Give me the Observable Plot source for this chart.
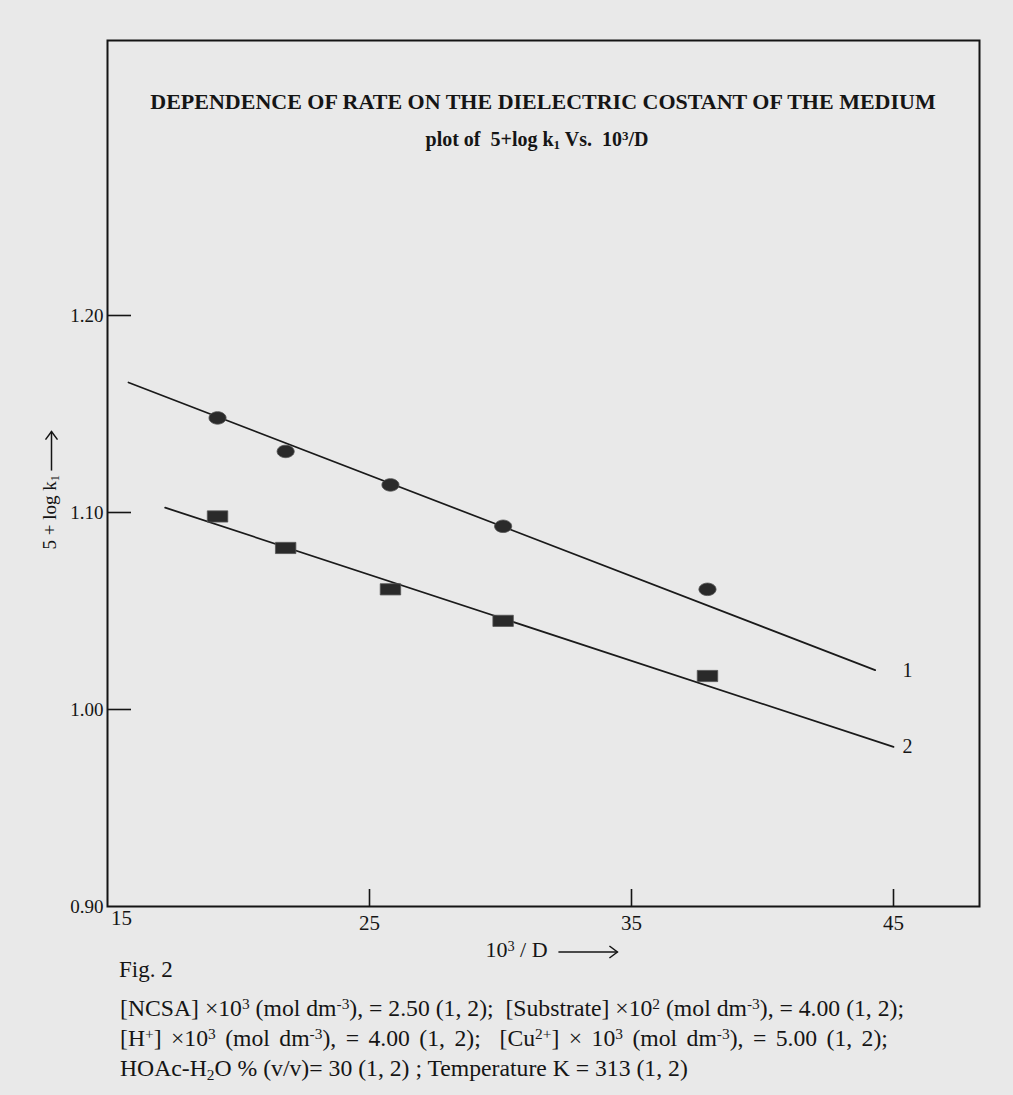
<!DOCTYPE html>
<html><head><meta charset="utf-8">
<script src="https://cdn.jsdelivr.net/npm/d3@7"></script>
<script src="https://cdn.jsdelivr.net/npm/@observablehq/plot@0.6"></script>
<style>
body{margin:0;background:#e9e9e9;}
#page{position:relative;width:1013px;height:1095px;overflow:hidden;font-family:"Liberation Serif","Times New Roman",serif;color:#151515;}
#page > svg{position:absolute;left:0;top:0;}
.abs{position:absolute;white-space:nowrap;line-height:1;}
.abs sub{font-size:0.65em;vertical-align:-0.25em;line-height:0;}
.abs sup{font-size:0.65em;vertical-align:0.45em;line-height:0;}
</style></head><body><div id="page"></div>
<script>
// ---- data ----
const xValues = [19.2, 21.8, 25.8, 30.1, 37.9];          // 10^3/D
const series1 = [1.148, 1.131, 1.114, 1.093, 1.061];     // curve 1 (circles)
const series2 = [1.098, 1.082, 1.061, 1.045, 1.017];     // curve 2 (squares)
const fit1X = [15.8, 44.3];
const fit1Y = [1.166, 1.020];
const fit2X = [17.2, 45.0];
const fit2Y = [1.1025, 0.981];
const seriesNames = ["1", "2"];
const xTicks = [15, 25, 35, 45];
const yTicks = [0.90, 1.00, 1.10, 1.20];

// ---- tables ----
const pts1 = xValues.map((x, i) => ({x, y: series1[i]}));
const pts2 = xValues.map((x, i) => ({x, y: series2[i]}));
const fit1 = fit1X.map((x, i) => ({x, y: fit1Y[i]}));
const fit2 = fit2X.map((x, i) => ({x, y: fit2Y[i]}));
const fitEnds = [{name: seriesNames[0], y: fit1Y[1]}, {name: seriesNames[1], y: fit2Y[1]}];

// custom symbols
const ellipseSym = {draw(ctx, size) {
  const r = Math.sqrt(size / Math.PI), rx = r * 1.3, ry = r * 0.95, n = 28;
  for (let i = 0; i < n; i++) {
    const a = 2 * Math.PI * i / n;
    const px = rx * Math.cos(a), py = ry * Math.sin(a);
    i ? ctx.lineTo(px, py) : ctx.moveTo(px, py);
  }
  ctx.closePath();
}};
const rectSym = {draw(ctx, size) {
  const r = Math.sqrt(size / Math.PI), w = r * 1.55, h = r * 0.85;
  ctx.moveTo(-w, -h); ctx.lineTo(w, -h); ctx.lineTo(w, h); ctx.lineTo(-w, h); ctx.closePath();
}};

const W = 1013, H = 960, mL = 107, mR = 34, mT = 40, mB = 54;
const fw = W - mL - mR, fh = H - mT - mB;
const pxPerX = 26.2, pxPerY = 1970;

const plot = Plot.plot({
  width: W, height: H,
  marginLeft: mL, marginRight: mR, marginTop: mT, marginBottom: mB,
  style: {background: "transparent", fontFamily: "'Liberation Serif', serif", color: "#151515"},
  x: {domain: [15, 15 + fw / pxPerX]},
  y: {domain: [0.9, 0.9 + fh / pxPerY]},
  marks: [
    Plot.frame({stroke: "#151515", strokeWidth: 2}),
    Plot.ruleY(yTicks.slice(1), {y: d => d, insetRight: fw - 24, stroke: "#151515", strokeWidth: 1.6}),
    Plot.ruleX(xTicks.slice(1), {x: d => d, insetTop: fh - 17, stroke: "#151515", strokeWidth: 1.6}),
    Plot.axisY(yTicks, {tickSize: 0, tickPadding: 4, tickFormat: d3.format(".2f"), fontSize: 19, label: null}),
    Plot.axisX(xTicks.slice(1), {tickSize: 0, tickPadding: 9, fontSize: 21, label: null}),
    Plot.text([xTicks[0]], {x: d => d, text: d => String(d), frameAnchor: "bottom", dy: 18, dx: 14, fontSize: 21}),
    Plot.line(fit1, {x: "x", y: "y", stroke: "#1a1a1a", strokeWidth: 1.7}),
    Plot.line(fit2, {x: "x", y: "y", stroke: "#1a1a1a", strokeWidth: 1.7}),
    Plot.dot(pts1, {x: "x", y: "y", symbol: ellipseSym, r: 6.6, fill: "#2a2a2a", stroke: "#555", strokeWidth: 0.8}),
    Plot.dot(pts2, {x: "x", y: "y", symbol: rectSym, r: 6.6, fill: "#2a2a2a", stroke: "#555", strokeWidth: 0.8}),
    Plot.text(fitEnds, {y: "y", text: "name", frameAnchor: "right", dx: -67, fontSize: 20})
  ]
});
const page = document.getElementById("page");
page.appendChild(plot);

const arrow = (len) => `<svg width="${len}" height="14" style="vertical-align:middle;overflow:visible"><line x1="0" y1="7" x2="${len-1}" y2="7" stroke="#151515" stroke-width="1.5"/><path d="M${len-9},1 L${len-1},7 L${len-9},13" fill="none" stroke="#151515" stroke-width="1.5"/></svg>`;

function add(html, style) {
  const d = document.createElement("div");
  d.className = "abs";
  d.innerHTML = html;
  Object.assign(d.style, style);
  page.appendChild(d);
  return d;
}
add("DEPENDENCE OF RATE ON THE DIELECTRIC COSTANT OF THE MEDIUM",
  {left: "543px", top: "91px", transform: "translateX(-50%)", fontSize: "22px", fontWeight: "bold"});
add("plot of&nbsp; 5+log k<sub>1</sub> Vs.&nbsp; 10<sup>3</sup>/D",
  {left: "537px", top: "129px", transform: "translateX(-50%)", fontSize: "20px", fontWeight: "bold"});
add("10<sup>3</sup> / D&nbsp;&nbsp;" + arrow(60),
  {left: "552px", top: "939px", transform: "translateX(-50%)", fontSize: "22px"});
add("5 + log k<sub>1</sub>&nbsp;" + arrow(40),
  {left: "49px", top: "490px", transform: "translate(-50%,-50%) rotate(-90deg)", fontSize: "19px"});
add("Fig. 2", {left: "119px", top: "958px", fontSize: "23px"});
add("[NCSA] ×10<sup>3</sup> (mol dm<sup>-3</sup>), = 2.50 (1, 2);&nbsp; [Substrate] ×10<sup>2</sup> (mol dm<sup>-3</sup>), = 4.00 (1, 2);",
  {left: "120px", top: "997px", fontSize: "23.7px"});
add("[H<sup>+</sup>] ×10<sup>3</sup> (mol dm<sup>-3</sup>), = 4.00 (1, 2);&nbsp; [Cu<sup>2+</sup>] × 10<sup>3</sup> (mol dm<sup>-3</sup>), = 5.00 (1, 2);",
  {left: "120px", top: "1027px", fontSize: "23.7px", wordSpacing: "3.5px"});
add("HOAc-H<sub>2</sub>O % (v/v)= 30 (1, 2) ; Temperature K = 313 (1, 2)",
  {left: "120px", top: "1057px", fontSize: "23.7px"});
</script></body></html>
